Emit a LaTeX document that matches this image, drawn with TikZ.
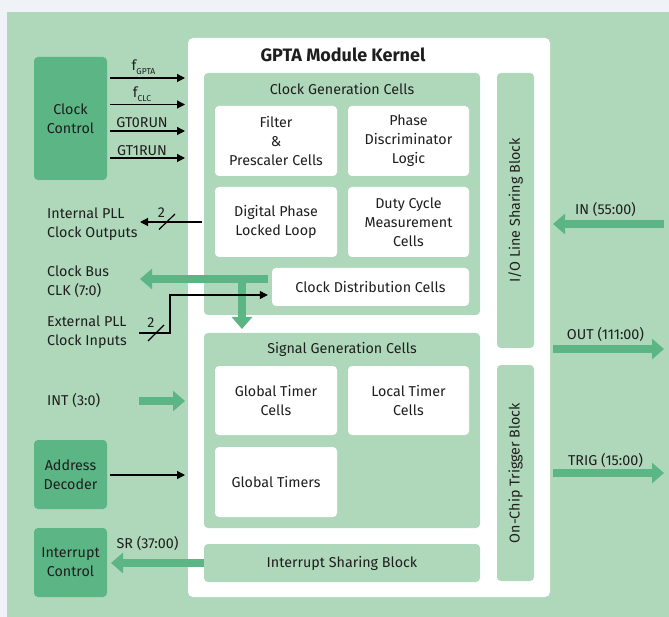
\documentclass[tikz,border=0pt]{standalone}
\usepackage{fontspec}
\setmainfont{Fira Sans}
\usetikzlibrary{arrows.meta}
\definecolor{bgtop}{HTML}{EFF3F8}
\definecolor{panel}{HTML}{AFD8BB}
\definecolor{dkg}{HTML}{5CB584}
\definecolor{ink}{HTML}{1E1E1E}
\newcommand{\sub}[1]{\raisebox{-0.45ex}{\fontsize{8.5}{9}\selectfont #1}}
\begin{document}
\begin{tikzpicture}[x=1pt,y=-1pt,
  font=\fontsize{14.3}{19}\selectfont, text=ink,
  box/.style={rounded corners=4pt, inner sep=0pt, align=center,
    font=\fontsize{14.3}{19}\selectfont},
  wbox/.style={box, fill=white},
  gbox/.style={box, fill=panel},
  dbox/.style={box, fill=dkg},
  lbl/.style={inner sep=0pt, anchor=base},
  llbl/.style={inner sep=0pt, anchor=west, align=left,
    font=\fontsize{14.3}{19}\selectfont},
  thinarrow/.style={draw=black, line width=1.2pt, -{Triangle[length=8pt,width=8pt]}},
  thinline/.style={draw=black, line width=1.2pt},
  fatarrow/.style={draw=dkg, line width=8pt, -{Triangle[length=12pt,width=20pt]}},
  fatline/.style={draw=dkg, line width=8pt}]
\useasboundingbox (0,0) rectangle (669,617);
\fill[bgtop] (0,0) rectangle (669,617);
\fill[panel] (7,12) rectangle (669,617);

% kernel
\node[wbox, rounded corners=5pt, minimum width=362pt, minimum height=559pt] (kernel) at (369,317.5) {};
\node[lbl, font=\fontsize{18}{20}\selectfont\bfseries] (ktitle) at (343,61.5) {GPTA Module Kernel};

% clock generation cells
\node[gbox, minimum width=276pt, minimum height=242pt] (cgc) at (342,194) {};
\node[lbl] (cgct) at (342,95) {Clock Generation Cells};
\node[wbox, minimum width=122pt, minimum height=70pt] (filter) at (276,141) {Filter\\\&\\Prescaler Cells};
\node[wbox, minimum width=121pt, minimum height=70pt] (phase) at (408.5,141) {Phase\\Discriminator\\Logic};
\node[wbox, minimum width=122pt, minimum height=70pt] (dpll) at (276,222) {Digital Phase\\Locked Loop};
\node[wbox, minimum width=121pt, minimum height=70pt] (duty) at (408.5,222) {Duty Cycle\\Measurement\\Cells};
\node[wbox, minimum width=197pt, minimum height=38pt] (cdc) at (370.5,287) {Clock Distribution Cells};

% signal generation cells
\node[gbox, minimum width=276pt, minimum height=195pt] (sgc) at (342,430.5) {};
\node[lbl] (sgct) at (342,353.5) {Signal Generation Cells};
\node[wbox, minimum width=122pt, minimum height=69pt] (gtc) at (276,400.5) {Global Timer\\Cells};
\node[wbox, minimum width=121pt, minimum height=69pt] (ltc) at (408.5,400.5) {Local Timer\\Cells};
\node[wbox, minimum width=122pt, minimum height=70pt] (gt) at (276,482) {Global Timers};

% interrupt sharing
\node[gbox, minimum width=276pt, minimum height=38pt] (isb) at (342,563) {Interrupt Sharing Block};

% vertical blocks
\node[gbox, minimum width=37pt, minimum height=275pt] (io) at (515.5,210.5) {};
\node[inner sep=0pt, rotate=90] (iot) at (io.center) {I/O Line Sharing Block};
\node[gbox, minimum width=37pt, minimum height=216pt] (oct) at (515.5,473) {};
\node[inner sep=0pt, rotate=90] (octt) at (oct.center) {On-Chip Trigger Block};

% left dark blocks
\node[dbox, minimum width=73pt, minimum height=123pt] (clk) at (70.5,118.5) {Clock\\Control};
\node[dbox, minimum width=73pt, minimum height=69pt] (addr) at (70.5,474.5) {Address\\Decoder};
\node[dbox, minimum width=73pt, minimum height=69pt] (intc) at (70.5,562.5) {Interrupt\\Control};

% clock control signals
\coordinate (a1) at (185,78);
\coordinate (a2) at (185,104.5);
\coordinate (a3) at (185,131);
\coordinate (a4) at (185,158);
\draw[thinarrow] ([xshift=3pt]clk.east |- a1) -- (a1);
\draw[thinarrow] ([xshift=3pt]clk.east |- a2) -- (a2);
\draw[thinarrow] ([xshift=3pt]clk.east |- a3) -- (a3);
\draw[thinarrow] ([xshift=3pt]clk.east |- a4) -- (a4);
\node[lbl] (l1) at (143.5,71) {f\sub{GPTA}};
\node[lbl] (l2) at (142,98) {f\sub{CLC}};
\node[lbl] (l3) at (142,128) {GT0RUN};
\node[lbl] (l4) at (142,155.5) {GT1RUN};

% internal PLL outputs
\node[llbl] (ipll) at (47,224) {Internal PLL\\Clock Outputs};
\coordinate (ipt) at (140,222);
\draw[thinarrow] (cgc.west |- dpll) ++(-2,0) -- (ipt);
\coordinate (s1a) at (159,229.5);
\coordinate (s1b) at (175,214);
\draw[thinline] (s1a) -- (s1b);
\node[inner sep=0pt] (n1) at (161.5,212.5) {2};

% clock bus
\node[llbl] (cbus) at (47,282) {Clock Bus\\CLK (7:0)};
\coordinate (cbt) at (140,279);
\coordinate (cbs) at (268,279);
\coordinate (cbj) at (242,275);
\coordinate (cbd) at (242,329);
\draw[fatarrow] (cbs) -- (cbt);
\draw[fatarrow] (cbj) -- (cbd);

% external PLL inputs
\node[llbl] (epll) at (47,332.5) {External PLL\\Clock Inputs};
\coordinate (e0) at (139,333);
\coordinate (e1) at (170,333);
\coordinate (e2) at (170,295);
\draw[thinarrow] (e0) -- (e1) -- (e2) -- ([xshift=-4pt]cdc.west |- e2);
\coordinate (s2a) at (148,341);
\coordinate (s2b) at (164,325);
\draw[thinline] (s2a) -- (s2b);
\node[inner sep=0pt] (n2) at (151,322.5) {2};

% INT
\node[lbl, anchor=base west] (intl) at (47,405.5) {INT (3:0)};
\coordinate (i0) at (139,401);
\coordinate (i1) at (185,401);
\draw[fatarrow] (i0) -- (i1);

% address decoder
\coordinate (ad1) at (185,475);
\draw[thinarrow] ([xshift=3pt]addr.east |- ad1) -- (ad1);

% SR
\node[lbl] (srl) at (147.5,548) {SR (37:00)};
\coordinate (sr1) at (111,563);
\draw[fatarrow] (isb.west) -- (sr1);

% right side
\coordinate (inS) at (664,224);
\coordinate (inT) at (553,224);
\draw[fatarrow] (inS) -- (inT);
\node[lbl] (inl) at (605.5,215) {IN (55:00)};
\coordinate (outS) at (553,349);
\coordinate (outT) at (664,349);
\draw[fatarrow] (outS) -- (outT);
\node[lbl] (outl) at (605.5,340) {OUT (111:00)};
\coordinate (trS) at (553,473);
\coordinate (trT) at (664,473);
\draw[fatarrow] (trS) -- (trT);
\node[lbl] (trl) at (605.5,465) {TRIG (15:00)};
\end{tikzpicture}
\end{document}
